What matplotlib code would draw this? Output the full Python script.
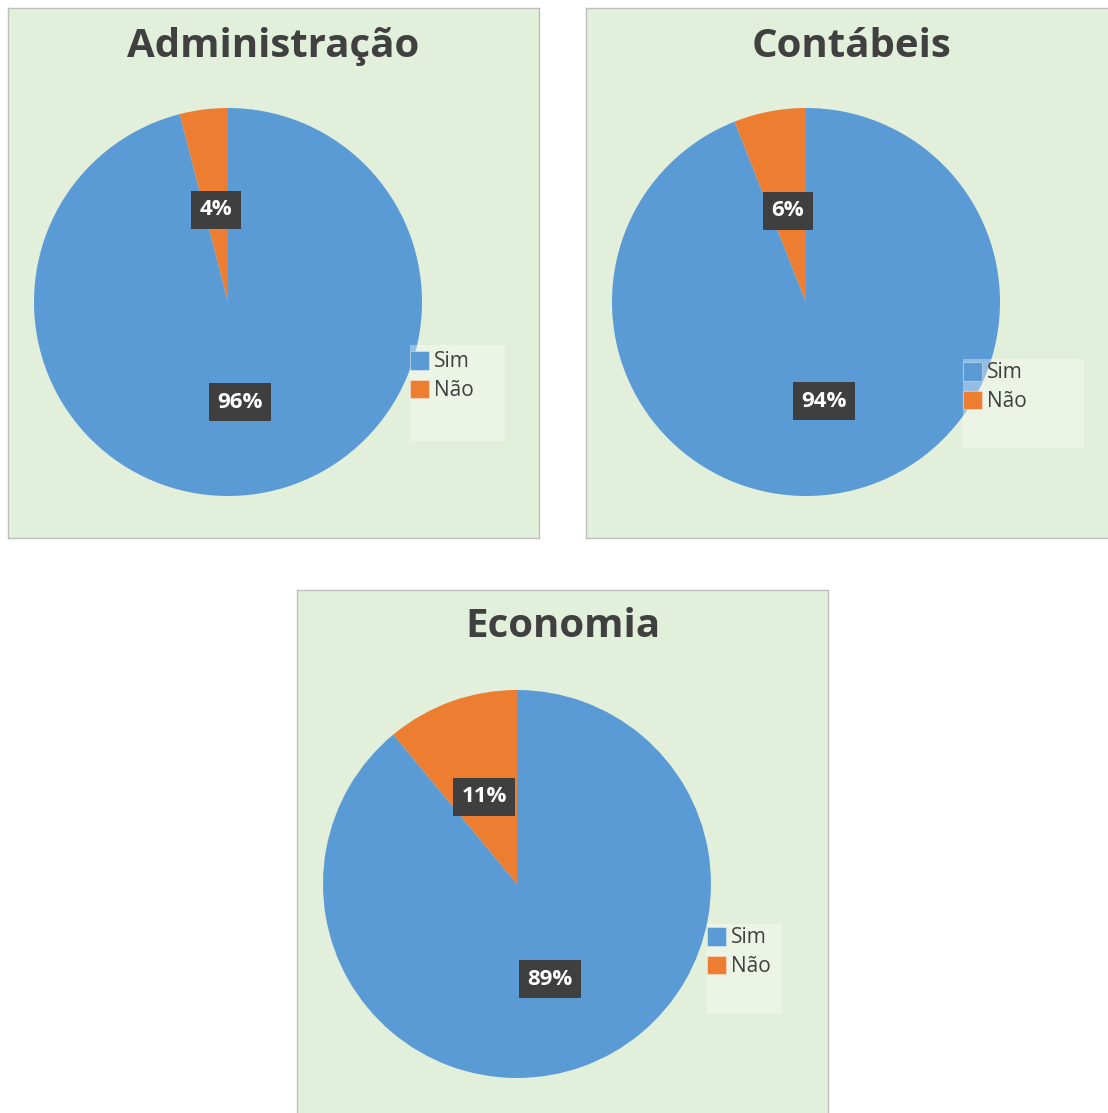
import matplotlib.pyplot as plt
from matplotlib.patches import Rectangle

plt.rcParams['font.family'] = ['Open Sans', 'DejaVu Sans']

titles = ["Administração", "Contábeis", "Economia"]
categories = ["Sim", "Não"]
sim_values = [96, 94, 89]
nao_values = [4, 6, 11]

colors = ["#5B9BD5", "#ED7D31"]
panel_bg = "#E2EFDA"
text_dark = "#404040"

W, H = 1108, 1113
fig = plt.figure(figsize=(W / 100, H / 100), dpi=100)

# panel boxes in pixels: left, top, width, height
panels = [(8, 8, 531, 530), (586, 8, 531, 530), (297, 590, 531, 530)]
title_base = [49, 49, 47]
# legend box (left, top, w, h) and first marker top-left, relative to panel
legend_box = [(402, 337, 95, 96), (377, 351, 121, 89), (410, 334, 75, 90)]
legend_anchor = [(402, 343), (377, 354), (410, 337)]

for i, (px, py, pw, ph) in enumerate(panels):
    ax = fig.add_axes([px / W, 1 - (py + ph) / H, pw / W, ph / H])
    ax.set_facecolor(panel_bg)

    wedges, texts, autotexts = ax.pie(
        [sim_values[i], nao_values[i]], colors=colors, startangle=90,
        counterclock=False, radius=194, center=(220, ph - 294),
        autopct='%1.0f%%', pctdistance=0.5,
        wedgeprops=dict(linewidth=0),
        textprops=dict(color="white", fontsize=16, fontweight="bold"))
    for t in autotexts:
        x, y = t.get_position()
        t.set_position((x, y - 4))
        t.set_bbox(dict(boxstyle="square,pad=0.38", facecolor="#3F3F3F", edgecolor="none"))

    ax.set_xlim(0, pw)
    ax.set_ylim(0, ph)
    ax.set_aspect('auto')
    ax.set_frame_on(True)
    for s in ax.spines.values():
        s.set_color("#BFBFBF")
        s.set_linewidth(1)
    ax.set_xticks([])
    ax.set_yticks([])

    ax.text(pw / 2, ph - title_base[i], titles[i], ha="center", va="baseline",
            fontsize=29, fontweight="bold", color=text_dark)

    bx, by, bw, bh = legend_box[i]
    ax.add_patch(Rectangle((bx, ph - by - bh), bw, bh, facecolor="white",
                           alpha=0.35, edgecolor="none", zorder=3))
    lx, ly = legend_anchor[i]
    leg = ax.legend(wedges, categories, loc="upper left",
                    bbox_to_anchor=(lx / pw, 1 - ly / ph),
                    frameon=False, fontsize=15,
                    handlelength=0.9, handleheight=1.0, handletextpad=0.25,
                    labelspacing=0.35, borderpad=0, borderaxespad=0)
    for h in leg.legend_handles:
        h.set_edgecolor((1, 1, 1, 0.35))
        h.set_linewidth(0.8)
    for t in leg.get_texts():
        t.set_color(text_dark)

fig.savefig("out.png", dpi=100, facecolor="white")
